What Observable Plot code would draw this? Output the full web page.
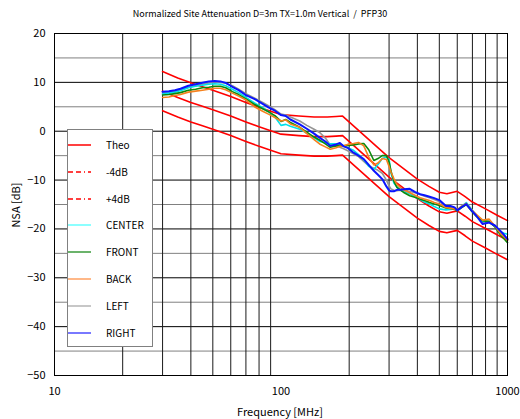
<!DOCTYPE html>
<html><head><meta charset="utf-8">
<script src="https://cdn.jsdelivr.net/npm/d3@7"></script>
<script src="https://cdn.jsdelivr.net/npm/@observablehq/plot@0.6"></script>
<style>
body{margin:0;background:#fff;font-family:"Noto Sans CJK JP","DejaVu Sans",sans-serif;color:#000;}
#wrap{position:relative;width:520px;height:419px;overflow:hidden;}
#wrap svg{position:absolute;left:0;top:0;}
.lbl{position:absolute;white-space:pre;}
#title{left:0;width:520px;top:7px;text-align:center;font-size:9px;}
#ylab{left:15px;top:205px;font-size:11px;transform:translate(-50%,-50%) rotate(-90deg);}
#xlab{left:280px;top:411px;font-size:11px;transform:translate(-50%,-50%);}
#legend{position:absolute;left:67px;top:129px;width:84px;height:216px;border:1px solid #808080;background:#fff;}
.item{position:absolute;left:0;height:14px;font-size:10px;line-height:14px;}
.item svg{position:absolute;left:13px;top:0;}
.item span{position:absolute;left:38px;top:0;}
</style></head><body>
<div id="wrap">
  <div class="lbl" id="title">Normalized Site Attenuation D=3m TX=1.0m Vertical  /  PFP30</div>
  <div class="lbl" id="ylab">NSA [dB]</div>
  <div class="lbl" id="xlab">Frequency [MHz]</div>
</div>
<script>
// ---- data ----
const theoFreq = [30,35,40,45,50,60,70,80,90,100,120,140,160,175,187,300,400,450,500,540,600,650,700,800,900,1000];
const theo      = [8.2,6.9,5.9,5.1,4.4,3.1,1.9,0.9,0.1,-0.6,-0.9,-1.1,-1.1,-1.0,-0.9,-9.4,-13.8,-15.3,-16.5,-16.8,-16.3,-17.4,-18.5,-19.9,-21.2,-22.3];
const theoPlus4 = [12.2,10.9,9.9,9.1,8.4,7.1,5.9,4.9,4.1,3.4,3.1,2.9,2.9,3.0,3.1,-5.4,-9.8,-11.3,-12.5,-12.8,-12.3,-13.4,-14.5,-15.9,-17.2,-18.3];
const theoMinus4= [4.2,2.9,1.9,1.1,0.4,-0.9,-2.1,-3.1,-3.9,-4.6,-4.9,-5.1,-5.1,-5.0,-4.9,-13.4,-17.8,-19.3,-20.5,-20.8,-20.3,-21.4,-22.5,-23.9,-25.2,-26.3];

const freq = [30,32,34,36,39,42,45,48,51,54,57,61,65,70,77,83,88,94,100,105,110,121,130,140,148,157,165,175,182,189,197,209,220,232,244,257,268,280,292,300,306,315,325,336,350,370,390,411,430,453,475,500,535,560,584,600,625,658,690,728,777,830,880,930,965,1000];
const right = [8.1,8.2,8.4,8.7,9.3,9.6,9.9,10.2,10.3,10.2,9.9,9.1,8.4,7.4,6.5,5.6,4.9,4.2,3.3,3.1,2.4,1.4,0.5,-0.5,-1.3,-2.1,-3.0,-2.7,-2.4,-3.1,-3.4,-4.4,-5.0,-5.7,-6.9,-8.1,-8.9,-9.8,-11.3,-12.1,-12.3,-12.3,-12.0,-12.0,-11.9,-11.8,-12.4,-12.9,-13.1,-13.4,-13.7,-14.1,-15.3,-15.3,-15.6,-16.2,-15.6,-14.9,-16.1,-17.3,-19.0,-18.7,-19.3,-20.4,-21.2,-22.1];
const left = [7.8,8.0,8.2,8.5,9.0,9.3,9.6,9.9,10.1,10.0,9.8,9.3,8.6,7.7,6.7,5.9,5.2,4.4,3.5,3.3,2.9,2.1,1.2,0.4,-0.25,-1.4,-2.8,-3.0,-3.3,-3.6,-4.0,-4.6,-5.2,-6.2,-7.1,-7.6,-8.0,-8.6,-10.0,-11.2,-11.8,-12.1,-12.2,-12.1,-12.2,-12.3,-12.6,-12.9,-13.3,-13.6,-14.0,-14.4,-15.4,-15.6,-15.8,-16.2,-15.5,-15.0,-16.0,-17.2,-18.6,-18.4,-19.4,-20.5,-21.3,-22.0];
const center = [7.6,7.8,8.0,8.3,8.9,9.2,9.4,9.6,9.7,9.6,9.3,8.6,7.9,6.9,5.7,4.8,4.0,2.9,1.2,1.4,1.0,0.4,-0.4,-1.3,-2.1,-2.3,-2.6,-2.6,-2.8,-3.0,-3.4,-3.9,-4.8,-5.8,-7.2,-7.8,-6.8,-5.6,-5.3,-5.7,-8.6,-10.6,-11.4,-12.0,-12.4,-12.8,-13.4,-14.0,-14.5,-14.9,-15.4,-15.9,-16.1,-16.0,-15.9,-16.2,-15.4,-14.6,-15.8,-17.2,-18.4,-18.5,-19.4,-20.6,-20.9,-21.1];
const front = [7.4,7.5,7.7,7.9,8.4,8.6,8.9,9.0,9.2,9.2,8.9,8.1,7.5,6.6,5.4,4.6,4.0,3.2,2.0,2.4,1.8,0.8,-0.2,-1.2,-1.8,-2.6,-3.3,-3.0,-2.9,-3.0,-2.9,-2.8,-2.6,-2.5,-3.8,-6.0,-5.6,-5.0,-5.0,-6.3,-8.2,-10.2,-11.5,-12.0,-12.6,-13.2,-13.5,-13.9,-14.2,-14.6,-14.9,-15.2,-15.7,-15.8,-16.0,-16.3,-15.7,-15.0,-16.2,-17.4,-18.3,-18.5,-19.6,-21.2,-22.0,-22.8];
const back = [6.9,7.0,7.3,7.5,8.0,8.2,8.4,8.6,8.8,8.8,8.5,7.8,7.2,6.4,4.9,4.1,3.5,2.8,2.1,2.3,1.5,0.8,-0.5,-1.7,-2.6,-3.2,-3.7,-3.4,-3.1,-3.0,-2.7,-2.5,-2.3,-3.0,-5.3,-6.9,-6.5,-5.6,-5.8,-7.2,-8.4,-9.7,-10.9,-11.5,-12.1,-12.6,-13.1,-13.6,-13.9,-14.2,-14.6,-14.9,-15.6,-15.8,-15.9,-16.1,-15.4,-14.8,-16.0,-17.0,-18.2,-18.0,-19.4,-20.9,-21.6,-22.3];

const yMajor = [-50,-40,-30,-20,-10,0,10,20];
const yMinor = [-45,-35,-25,-15,-5,5,15];
const xGrid = [20,30,40,50,60,70,80,90,200,300,400,500,600,700,800,900];
const xTicks = [10,100,1000];
const yTicks = [-50,-40,-30,-20,-10,0,10,20];

const theoSeries = [
  {name:"Theo", values: theo},
  {name:"-4dB", values: theoMinus4},
  {name:"+4dB", values: theoPlus4}
];
const measSeries = [
  {name:"LEFT", values:left, color:"#959595", legend:"#b4b4b4", w:1.6},
  {name:"CENTER", values:center, color:"#00e0e8", legend:"#66ffff", w:1.6},
  {name:"FRONT", values:front, color:"#0b8a0b", legend:"#3a9a3a", w:1.6},
  {name:"BACK", values:back, color:"#f5821f", legend:"#ffa060", w:1.6},
  {name:"RIGHT", values:right, color:"#0a14ff", legend:"#4d4dff", w:2}
];

const marks = [
  Plot.ruleY(yMinor, {stroke:"#808080", strokeWidth:1}),
  Plot.ruleY(yMajor, {stroke:"#000", strokeWidth:1}),
  Plot.ruleX(xGrid, {stroke:"#1a1a1a", strokeWidth:1})
];
for (const s of theoSeries) {
  marks.push(Plot.line(theoFreq.map((f,i)=>({f, v:s.values[i]})), {x:"f", y:"v", stroke:"#ff0000", strokeWidth:1.6}));
}
for (const s of measSeries) {
  marks.push(Plot.line(freq.map((f,i)=>({f, v:s.values[i]})), {x:"f", y:"v", stroke:s.color, strokeWidth:s.w, strokeLinejoin:"round"}));
}
marks.push(Plot.frame({stroke:"#000", strokeWidth:1}));

const chart = Plot.plot({
  width:520, height:419,
  marginLeft:54, marginRight:13, marginTop:33, marginBottom:44,
  style:{fontFamily:'"Noto Sans CJK JP","DejaVu Sans",sans-serif', fontSize:"11px", background:"transparent", color:"#000"},
  x:{type:"log", domain:[10,1000], ticks:xTicks, tickFormat:d=>String(d), tickSize:0, tickPadding:12, label:null},
  y:{domain:[-50,20], ticks:yTicks, tickSize:0, tickPadding:9, label:null},
  marks
});
const wrap = document.getElementById("wrap");
wrap.insertBefore(chart, wrap.firstChild);

// ---- legend ----
const order = ["CENTER","FRONT","BACK","LEFT","RIGHT"];
const legendItems = [
  {name:"Theo", color:"#ff0000", dash:null},
  {name:"-4dB", color:"#ff0000", dash:"5,3,5,3,1,3"},
  {name:"+4dB", color:"#ff0000", dash:"5,3,5,3,1,3"},
  ...order.map(n => measSeries.find(s => s.name === n)).map(s=>({name:s.name, color:s.legend, dash:null}))
];
const lg = document.createElement("div");
lg.id = "legend";
legendItems.forEach((it,i)=>{
  const d = document.createElement("div");
  d.className = "item";
  d.style.top = (8 + i*26.8) + "px";
  d.innerHTML = `<svg width="24" height="14"><line x1="0" x2="23" y1="7" y2="7" stroke="${it.color}" stroke-width="1.5" ${it.dash?`stroke-dasharray="${it.dash}"`:""}/></svg><span>${it.name}</span>`;
  lg.appendChild(d);
});
wrap.appendChild(lg);
</script>
</body></html>
